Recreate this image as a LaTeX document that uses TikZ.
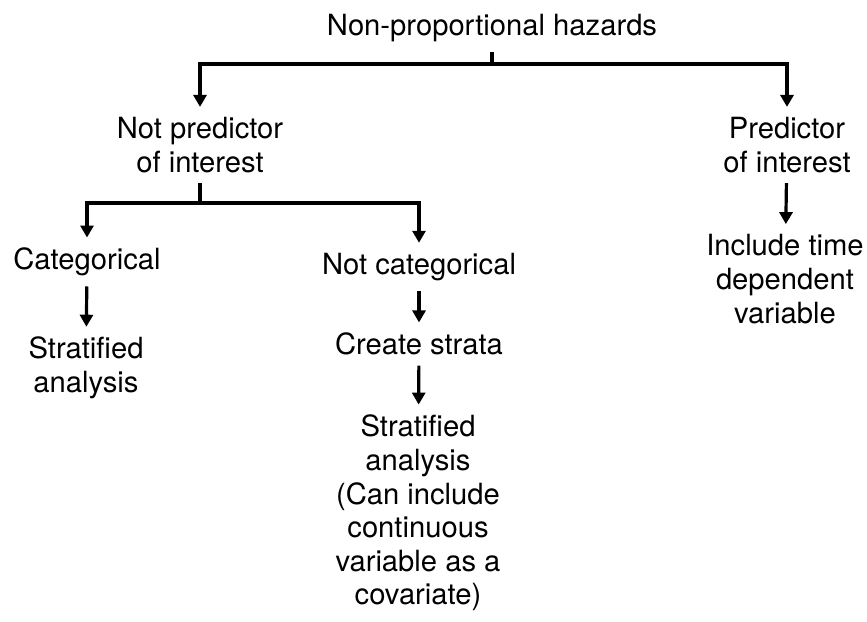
\documentclass[tikz,border=0pt]{standalone}
\usepackage{fontspec}
\setmainfont{TeX Gyre Heros}
\usetikzlibrary{arrows.meta}

\begin{document}
\begin{tikzpicture}[
  x=0.5pt, y=-0.5pt,
  label/.style={align=center, inner sep=5pt, font=\fontsize{14.6}{16.8}\selectfont},
  line/.style={line width=1.6pt},
  flow/.style={line width=1.6pt, -{Triangle[width=6.5pt, length=6pt]}},
]
  \useasboundingbox (0,0) rectangle (867,621);
  % the question at the top
  \node[label] (title) at (492,28) {Non-proportional hazards};
  % first split
  \node[label] (npi) at (200,145) {Not predictor\\of interest};
  \node[label] (pi)  at (787,145) {Predictor\\of interest};
  \coordinate (top) at (492,64);
  \draw[line] (title.south) -- (top);
  \draw[flow] (top) -| (npi.north);
  \draw[flow] (top) -| (pi.north);
  % not predictor of interest
  \node[label] (cat)  at (87,262)  {Categorical};
  \node[label] (ncat) at (419,267) {Not categorical};
  \coordinate (mid) at (200,203);
  \draw[line] (npi.south) -- (mid);
  \draw[flow] (mid) -| (cat.north);
  \draw[flow] (mid) -| (ncat.north);
  \node[label] (sa1) at (86,368) {Stratified\\analysis};
  \draw[flow] (cat) -- (sa1);
  \node[label] (cs) at (419,344) {Create strata};
  \draw[flow] (ncat) -- (cs);
  \node[label] (sa2) at (418,513)
    {Stratified\\analysis\\(Can include\\continuous\\variable as a\\covariate)};
  \draw[flow] (cs) -- (sa2);
  % predictor of interest
  \node[label] (itd) at (785,279) {Include time\\dependent\\variable};
  \draw[flow] (pi) -- (itd);
\end{tikzpicture}
\end{document}
